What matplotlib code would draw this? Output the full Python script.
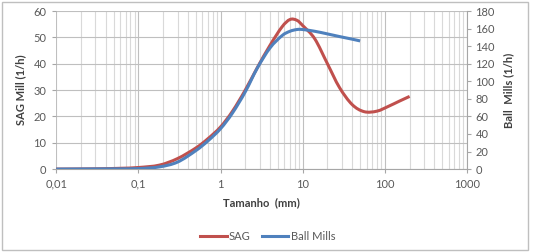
import numpy as np
import matplotlib.pyplot as plt
from matplotlib.path import Path
from matplotlib.patches import PathPatch
from matplotlib.lines import Line2D
from matplotlib.ticker import FixedLocator, NullFormatter, LogLocator

plt.rcParams['font.family'] = ['Lato', 'DejaVu Sans']

# SAG mill breakage rate (left axis, 1/h)
sag_size = [0.01, 0.03, 0.06, 0.1, 0.18, 0.3, 0.5, 0.7, 1.0, 1.4, 2.0, 2.8,
            4.0, 5.6, 7.0, 8.5, 10, 14, 20, 28, 40, 56, 80, 110, 150, 200]
sag_rate = [0.0, 0.1, 0.3, 0.6, 1.5, 4.0, 8.0, 11.5, 16.0, 22.0, 30.0, 38.5,
            47.0, 54.0, 56.8, 56.5, 54.5, 49.5, 40.0, 31.0, 24.5, 21.8, 22.0,
            23.8, 25.8, 27.6]

# Ball mills breakage rate (right axis, 1/h)
ball_size = [0.01, 0.05, 0.1, 0.18, 0.3, 0.5, 0.7, 1.0, 1.4, 2.0, 2.8, 4.0,
             5.6, 7.0, 8.5, 10, 14, 20, 28, 40, 50]
ball_rate = [0, 0.3, 0.6, 2.5, 8, 21, 32, 46, 64, 88, 115, 138, 152, 157,
             159, 159, 157, 154, 151, 148, 146]

x_ticks = [0.01, 0.1, 1, 10, 100, 1000]
x_labels = ['0,01', '0,1', '1', '10', '100', '1000']

red = '#C0504D'
blue = '#4F81BD'
txt = '#595959'


def smooth_path(xs, ys):
    # Excel-style smoothed line: cubic Bezier through the points (in log-x space)
    p = np.column_stack([np.log10(xs), ys])
    q = np.vstack([p[0], p, p[-1]])
    verts = [p[0]]
    codes = [Path.MOVETO]
    for i in range(len(p) - 1):
        c1 = q[i + 1] + (q[i + 2] - q[i]) / 6
        c2 = q[i + 2] - (q[i + 3] - q[i + 1]) / 6
        verts += [c1, c2, p[i + 1]]
        codes += [Path.CURVE4] * 3
    verts = np.array(verts)
    verts[:, 0] = 10 ** verts[:, 0]
    return Path(verts, codes)


fig = plt.figure(figsize=(5.35, 2.52), dpi=100)
fig.patches.append(plt.Rectangle((0.004, 0.006), 0.983, 0.988, transform=fig.transFigure,
                                 fill=False, edgecolor='#BFBFBF', linewidth=1))
ax = fig.add_axes([0.105, 0.329, 0.768, 0.627])
ax2 = ax.twinx()

ax.add_patch(PathPatch(smooth_path(sag_size, sag_rate), fill=False, edgecolor=red,
                       lw=2.2, capstyle='butt'))
ax2.add_patch(PathPatch(smooth_path(ball_size, ball_rate), fill=False, edgecolor=blue,
                        lw=2.2, capstyle='butt'))

ax.set_xscale('log')
ax.set_xlim(0.01, 1000)
ax.set_ylim(0, 60)
ax.set_yticks(range(0, 61, 10))
ax2.set_ylim(0, 180)
ax2.set_yticks(range(0, 181, 20))

ax.xaxis.set_major_locator(FixedLocator(x_ticks))
ax.set_xticklabels(x_labels)
ax.xaxis.set_minor_locator(LogLocator(base=10, subs=range(2, 10)))
ax.xaxis.set_minor_formatter(NullFormatter())

ax.grid(True, which='major', color='#BFBFBF', lw=0.8)
ax.grid(True, which='minor', axis='x', color='#D9D9D9', lw=0.8)
ax.set_axisbelow(True)

for a in (ax, ax2):
    for s in a.spines.values():
        s.set_visible(False)
    a.tick_params(labelsize=8, colors=txt, length=3, width=0.8)
    a.tick_params(axis='y', color='#A6A6A6')
ax.spines['bottom'].set_visible(True)
ax.spines['bottom'].set_color('#A6A6A6')
ax2.spines['right'].set_visible(True)
ax2.spines['right'].set_color('#A6A6A6')
ax.tick_params(axis='x', which='major', length=3, color='#A6A6A6', pad=4)
ax.tick_params(axis='x', which='minor', length=0)
ax.tick_params(axis='y', pad=4)
ax2.tick_params(axis='y', pad=3)

ax.set_xlabel('Tamanho  (mm)', fontsize=8, fontweight='bold', color='#404040', labelpad=5)
ax.set_ylabel('SAG Mill (1/h)', fontsize=8, fontweight='bold', color='#404040', labelpad=5)
ax2.set_ylabel('Ball  Mills (1/h)', fontsize=8, fontweight='bold', color='#404040', labelpad=6)

handles = [Line2D([], [], color=red, lw=2.2), Line2D([], [], color=blue, lw=2.2)]
fig.legend(handles, ['SAG', 'Ball Mills'], loc='center', bbox_to_anchor=(0.5, 0.063),
           ncol=2, frameon=False, fontsize=8, handlelength=2.4, columnspacing=1.0,
           handletextpad=0.2, labelcolor=txt)

fig.savefig('out.png', dpi=100)
